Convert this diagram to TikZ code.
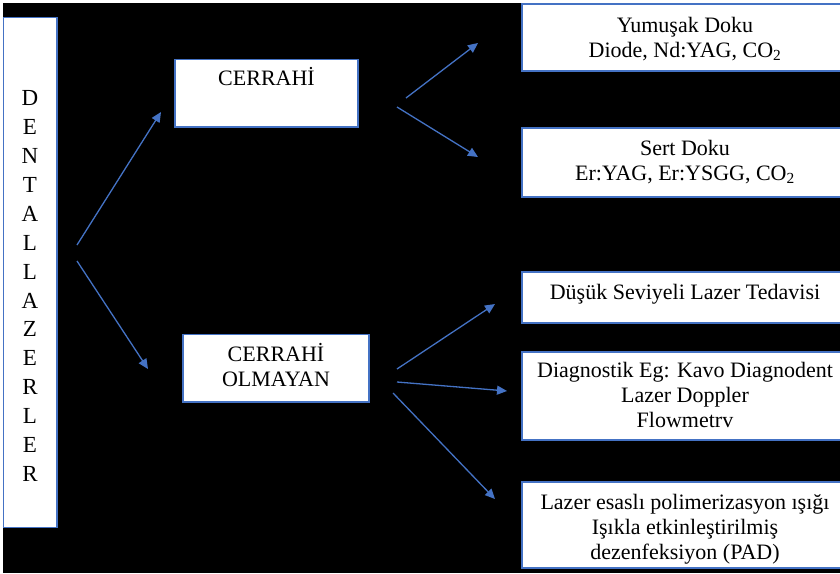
\documentclass[tikz,border=0pt]{standalone}
\usepackage{fontspec}
\setmainfont{Liberation Serif}
\usetikzlibrary{arrows.meta}
\definecolor{boxblue}{RGB}{68,114,196}

\begin{document}
\begin{tikzpicture}[x=1pt,y=-1pt,
  box/.style={draw=boxblue,line width=1.5pt,fill=white,inner sep=0pt},
  txt/.style={align=center,inner sep=0pt,font=\fontsize{22}{25}\selectfont},
  link/.style={draw=boxblue,line width=1.3pt,-{Triangle[length=10pt,width=9pt]}}]

\useasboundingbox (0,0) rectangle (840,573);
\fill[white] (0,0) rectangle (840,573);
\fill[black] (3,3) rectangle (840,573);

% boxes
\node[box,minimum width=53.5pt,minimum height=510pt] (DL) at (30.25,272.5) {};
\node[box,minimum width=183pt,minimum height=67.5pt] (C) at (266.5,93.25) {};
\node[box,minimum width=186pt,minimum height=67.5pt] (CO) at (276,368.25) {};
\node[box,minimum width=326pt,minimum height=67pt] (YD) at (685,37.5) {};
\node[box,minimum width=326pt,minimum height=69pt] (SD) at (685,162.5) {};
\node[box,minimum width=326pt,minimum height=51pt] (DS) at (685,297.5) {};
\node[box,minimum width=326pt,minimum height=88pt] (DG) at (685,396) {};
\node[box,minimum width=326pt,minimum height=86pt] (LE) at (685,525) {};

% texts
\node[txt,font=\fontsize{23}{28.96}\selectfont] (tDL) at (30,286)
  {D\\E\\N\\T\\A\\L\\L\\A\\Z\\E\\R\\L\\E\\R};
\node[txt,anchor=base] (tC) at (266.5,85) {CERRAHİ};
\node[txt] (tCO) at (276,365) {CERRAHİ\\OLMAYAN};
\node[txt] (tYD) at (685,39) {Yumuşak Doku\\Diode, Nd:YAG, CO\textsubscript{2}};
\node[txt] (tSD) at (685,162) {Sert Doku\\Er:YAG, Er:YSGG, CO\textsubscript{2}};
\node[txt] (tDS) at (685,294) {Düşük Seviyeli Lazer Tedavisi};
\node[txt] (tDG) at (685,395) {Diagnostik Eg: Kavo Diagnodent\\Lazer Doppler\\Flowmetrv};
\node[txt] (tLE) at (685,529.5) {Lazer esaslı polimerizasyon ışığı\\Işıkla etkinleştirilmiş\\dezenfeksiyon (PAD)};

% arrows
\coordinate (a1) at (77,245);
\coordinate (b1) at (161,112);
\coordinate (a2) at (77,261);
\coordinate (b2) at (148,369);
\coordinate (a3) at (406,98);
\coordinate (b3) at (478,43);
\coordinate (a4) at (397,107);
\coordinate (b4) at (478,157);
\coordinate (a5) at (397,369);
\coordinate (b5) at (495,304);
\coordinate (a6) at (397,382);
\coordinate (b6) at (507,391);
\coordinate (a7) at (393,393);
\coordinate (b7) at (495,499);

\draw[link] (a1) -- (b1);
\draw[link] (a2) -- (b2);
\draw[link] (a3) -- (b3);
\draw[link] (a4) -- (b4);
\draw[link] (a5) -- (b5);
\draw[link] (a6) -- (b6);
\draw[link] (a7) -- (b7);
\end{tikzpicture}
\end{document}
